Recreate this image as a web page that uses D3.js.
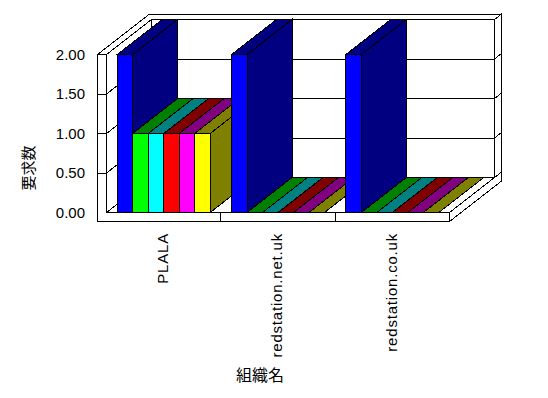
<!DOCTYPE html>
<html>
<head>
<meta charset="utf-8">
<script src="https://cdn.jsdelivr.net/npm/d3@7"></script>
<style>
  body { margin: 0; background: #fff; }
  text { font-family: "Liberation Sans", Arial, sans-serif; font-size: 15px; fill: #000; }
  .jp { font-family: "Noto Sans CJK JP", sans-serif; font-size: 15px; }
</style>
</head>
<body>
<div id="chart"></div>
<script>
// chart data
const categories = ["PLALA", "redstation.net.uk", "redstation.co.uk"];
const seriesBlue    = [2, 2, 2];
const seriesLime    = [1, 0, 0];
const seriesCyan    = [1, 0, 0];
const seriesRed     = [1, 0, 0];
const seriesMagenta = [1, 0, 0];
const seriesYellow  = [1, 0, 0];
const yTicks = [0, 0.5, 1, 1.5, 2];
const yTitle = "要求数";
const xTitle = "組織名";

const allSeries = [seriesBlue, seriesLime, seriesCyan, seriesRed, seriesMagenta, seriesYellow];
// front face colours and darker top / side colours
const frontColors = ["#0000ff", "#00ff00", "#00ffff", "#ff0000", "#ff00ff", "#ffff00"];
const darkColors  = ["#000080", "#008000", "#008080", "#800000", "#800080", "#808000"];

const width = 548, height = 398;

// box geometry (front plane)
const XL = 97.5, X0 = 106.5, X1 = 449.5;   // left wall outer, plot left, plot right
const Y0 = 212.5, YT = 54.5, YB = 221.5;   // floor top, top of axis, floor bottom
const DX = 45, DY = 35;                    // depth offset of the plot
const ZB = 52 / 45;                        // back of the back wall

const proj = (x, y, z) => [x + z * DX, y - z * DY];
const poly = pts => "M" + pts.map(p => p.join(",")).join("L") + "Z";
const seg = (a, b) => "M" + a.join(",") + "L" + b.join(",");

const y = d3.scaleLinear().domain([0, 2]).range([Y0, YT]);
const xGroup = d3.scaleBand().domain(categories).range([X0, X1]);
const gw = xGroup.bandwidth();
const pad = 10.7;
const xSeries = d3.scaleBand().domain(d3.range(allSeries.length)).range([pad, gw - pad]);
const bw = xSeries.bandwidth();

const svg = d3.select("#chart").append("svg")
    .attr("width", width)
    .attr("height", height);

const box = svg.append("g")
    .attr("fill", "#fff")
    .attr("stroke", "#000")
    .attr("stroke-width", 1)
    .attr("shape-rendering", "crispEdges");

const inner = yTicks.filter(v => v > 0 && v < 2);

// back wall front face + gridlines
box.append("path").attr("d", poly([proj(X0, YT, 1), proj(X1, YT, 1), proj(X1, Y0, 1), proj(X0, Y0, 1)]));
inner.forEach(v => box.append("path").attr("d", seg(proj(X0, y(v), 1), proj(X1, y(v), 1))));

// top of left wall + back wall
box.append("path").attr("d", poly([proj(XL, YT, 0), proj(X0, YT, 0), proj(X0, YT, 1),
    proj(X1, YT, 1), proj(X1, YT, ZB), proj(XL, YT, ZB)]));

// right side of back wall, with tick marks
box.append("path").attr("d", poly([proj(X1, YT, 1), proj(X1, YT, ZB), proj(X1, Y0, ZB), proj(X1, Y0, 1)]));
inner.forEach(v => box.append("path").attr("d", seg(proj(X1, y(v), 1), proj(X1, y(v), ZB))));

// floor top and right side
box.append("path").attr("d", poly([proj(X0, Y0, 0), proj(X1, Y0, 0), proj(X1, Y0, 1), proj(X0, Y0, 1)]));
box.append("path").attr("d", poly([proj(X1, Y0, 0), proj(X1, Y0, ZB), proj(X1, YB, ZB), proj(X1, YB, 0)]));

// left wall inner face with gridlines
box.append("path").attr("d", poly([proj(X0, YT, 0), proj(X0, YT, 1), proj(X0, Y0, 1), proj(X0, Y0, 0)]));
inner.forEach(v => box.append("path").attr("d", seg(proj(X0, y(v), 0), proj(X0, y(v), 1))));

// front face of left wall and floor (L shape)
box.append("path").attr("d", poly([[XL, YT], [X0, YT], [X0, Y0], [X1, Y0], [X1, YB], [XL, YB]]));
inner.forEach(v => box.append("path").attr("d", seg([XL, y(v)], [X0, y(v)])));
categories.slice(1).forEach(c => {
  const x = xGroup(c);
  box.append("path").attr("d", seg([x, Y0], [x, YB]));
});

// bars, painted left to right
const bars = svg.append("g")
    .attr("stroke", "#000")
    .attr("stroke-width", 1)
    .attr("shape-rendering", "crispEdges");

categories.forEach((c, i) => {
  allSeries.forEach((s, j) => {
    const v = s[i];
    const xa = xGroup(c) + xSeries(j), xb = xa + bw;
    const yv = y(v);
    if (v > 0) {
      bars.append("path").attr("fill", frontColors[j])
          .attr("d", poly([[xa, yv], [xb, yv], [xb, Y0], [xa, Y0]]));
      bars.append("path").attr("fill", darkColors[j])
          .attr("d", poly([proj(xb, yv, 0), proj(xb, yv, 1), proj(xb, Y0, 1), proj(xb, Y0, 0)]));
    }
    bars.append("path").attr("fill", darkColors[j])
        .attr("d", poly([proj(xa, yv, 0), proj(xb, yv, 0), proj(xb, yv, 1), proj(xa, yv, 1)]));
  });
});

// y tick labels
svg.append("g").selectAll("text")
  .data(yTicks)
  .join("text")
    .attr("x", 85)
    .attr("y", d => y(d))
    .attr("dy", "0.36em")
    .attr("text-anchor", "end")
    .text(d => d.toFixed(2));

// category labels, rotated
svg.append("g").selectAll("text")
  .data(categories)
  .join("text")
    .attr("transform", d => `translate(${xGroup(d) + gw / 2 - 1},233) rotate(-90)`)
    .attr("dy", "0.36em")
    .attr("text-anchor", "end")
    .attr("letter-spacing", "0.8px")
    .text(d => d);

// axis titles
svg.append("text")
    .attr("class", "jp")
    .attr("transform", "translate(29,168) rotate(-90)")
    .attr("dy", "0.36em")
    .attr("text-anchor", "middle")
    .text(yTitle);

svg.append("text")
    .attr("class", "jp")
    .attr("x", 260)
    .attr("y", 375)
    .attr("dy", "0.36em")
    .attr("text-anchor", "middle")
    .style("font-size", "16px")
    .text(xTitle);
</script>
</body>
</html>
